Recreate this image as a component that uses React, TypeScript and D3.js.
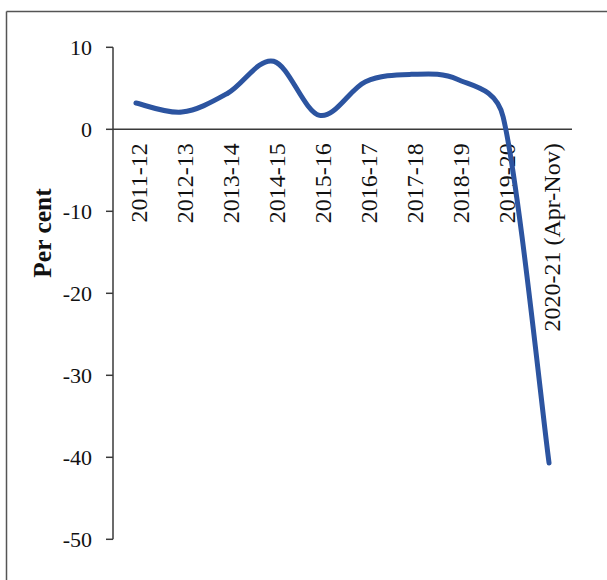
import React from "react";
import * as d3 from "d3";

const categories = [
  "2011-12",
  "2012-13",
  "2013-14",
  "2014-15",
  "2015-16",
  "2016-17",
  "2017-18",
  "2018-19",
  "2019-20",
  "2020-21 (Apr-Nov)",
];
const values = [3.2, 2.1, 4.4, 8.3, 1.7, 5.8, 6.7, 6.1, 1.5, -40.7];
const yTicks = [10, 0, -10, -20, -30, -40, -50];
const yTitle = "Per cent";

const W = 607;
const H = 580;
const left = 113;
const right = 572;
const top = 47.3;
const bottom = 539.3;
const font = "'Liberation Serif', 'Times New Roman', serif";
const axisColor = "#3a3a3a";

// Excel-like smoothed line: cubic Bezier through the points, tangents from
// neighbours (1/6), capped at half of the adjacent segment length.
function smoothPath(pts: [number, number][]): string {
  const path = d3.path();
  if (!pts.length) return "";
  path.moveTo(pts[0][0], pts[0][1]);
  const n = pts.length;
  const tangent = (i: number): [number, number] => {
    const p0 = pts[Math.max(0, i - 1)];
    const p2 = pts[Math.min(n - 1, i + 1)];
    return [(p2[0] - p0[0]) / 6, (p2[1] - p0[1]) / 6];
  };
  for (let i = 0; i < n - 1; i++) {
    const p1 = pts[i];
    const p2 = pts[i + 1];
    const seg = Math.hypot(p2[0] - p1[0], p2[1] - p1[1]);
    const cap = seg / 2;
    let t1 = tangent(i);
    let t2 = tangent(i + 1);
    const l1 = Math.hypot(t1[0], t1[1]);
    const l2 = Math.hypot(t2[0], t2[1]);
    if (l1 > cap) t1 = [(t1[0] * cap) / l1, (t1[1] * cap) / l1];
    if (l2 > cap) t2 = [(t2[0] * cap) / l2, (t2[1] * cap) / l2];
    path.bezierCurveTo(
      p1[0] + t1[0],
      p1[1] + t1[1],
      p2[0] - t2[0],
      p2[1] - t2[1],
      p2[0],
      p2[1]
    );
  }
  return path.toString();
}

export default function App() {
  const x = d3.scalePoint<string>().domain(categories).range([left, right]).padding(0.5);
  const y = d3.scaleLinear().domain([-50, 10]).range([bottom, top]);
  const pts: [number, number][] = values.map((v, i) => [x(categories[i]) as number, y(v)]);
  const path = smoothPath(pts);

  return (
    <svg
      width={W}
      height={H}
      style={{ position: "absolute", left: 0, top: 0, background: "#fff" }}
    >
      <rect x={0} y={0} width={W} height={H} fill="#fff" />
      {/* frame */}
      <line x1={6.5} y1={11.5} x2={W} y2={11.5} stroke="#555" strokeWidth={1.5} />
      <line x1={6.5} y1={11.5} x2={6.5} y2={H} stroke="#555" strokeWidth={1.5} />

      {/* y axis */}
      <line x1={left} y1={y(10)} x2={left} y2={y(-50)} stroke={axisColor} strokeWidth={1.5} />
      {yTicks.map((t) => (
        <g key={t}>
          <line x1={left - 7} x2={left} y1={y(t)} y2={y(t)} stroke={axisColor} strokeWidth={1.5} />
          <text
            x={92}
            y={y(t)}
            dy="0.35em"
            textAnchor="end"
            fontFamily={font}
            fontSize={22}
            fill="#111"
          >
            {t}
          </text>
        </g>
      ))}

      {/* x axis at zero */}
      <line x1={left} x2={right} y1={y(0)} y2={y(0)} stroke={axisColor} strokeWidth={1.5} />
      {categories.map((c) => (
        <text
          key={c}
          transform={`translate(${(x(c) as number) + 3},${y(0) + 14}) rotate(-90)`}
          dy="0.35em"
          textAnchor="end"
          fontFamily={font}
          fontSize={24}
          fill="#111"
        >
          {c}
        </text>
      ))}

      {/* y title */}
      <text
        transform={`translate(42,233) rotate(-90)`}
        dy="0.35em"
        textAnchor="middle"
        fontFamily={font}
        fontSize={25.5}
        fontWeight="bold"
        fill="#111"
      >
        {yTitle}
      </text>

      {/* series */}
      <path d={path} fill="none" stroke="#2c54a0" strokeWidth={5} strokeLinecap="round" strokeLinejoin="round" />
    </svg>
  );
}
